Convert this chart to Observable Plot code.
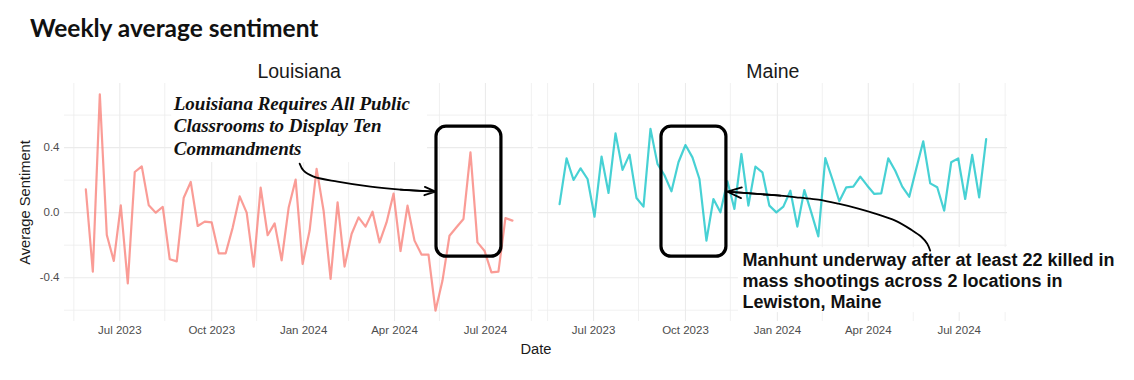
<!DOCTYPE html>
<html><head><meta charset="utf-8">
<script src="https://cdn.jsdelivr.net/npm/d3@7"></script>
<script src="https://cdn.jsdelivr.net/npm/@observablehq/plot@0.6"></script>
<style>
body{margin:0;background:#fff;width:1134px;height:380px;overflow:hidden;position:relative;font-family:"Liberation Sans",Arial,sans-serif}
#title{position:absolute;left:30px;top:3px;height:50px;font-family:Lato,sans-serif;font-weight:700;font-size:24.5px;line-height:50px;color:#111;white-space:nowrap}
#chart{position:absolute;left:0;top:50px}
</style></head><body>
<div id="title">Weekly average sentiment</div>
<div id="chart"></div>
<script>
const startDate = "2023-05-28"; // first weekly observation
const states = ["Louisiana", "Maine"];
const stateColors = ["#F8766D", "#00BFC4"];
const louisiana = [0.144,-0.363,0.728,-0.137,-0.297,0.045,-0.435,0.25,0.285,0.045,
  0.0,0.035,-0.287,-0.30,0.092,0.189,-0.082,-0.055,-0.06,-0.25,
  -0.25,-0.092,0.10,0.0,-0.332,0.154,-0.139,-0.066,-0.293,0.03,
  0.203,-0.316,-0.11,0.269,0.012,-0.408,0.064,-0.332,-0.131,-0.029,
  -0.086,0.006,-0.183,-0.06,0.117,-0.236,0.043,-0.172,-0.258,-0.258,
  -0.603,-0.418,-0.142,-0.09,-0.039,0.371,-0.183,-0.234,-0.367,-0.363,
  -0.033,-0.049];
const maine = [0.053,0.334,0.201,0.273,0.207,-0.025,0.345,0.121,0.488,0.263,
  0.357,0.09,0.037,0.515,0.30,0.23,0.131,0.31,0.416,0.34,
  0.207,-0.172,0.084,0.002,0.193,0.023,0.361,0.043,0.283,0.248,
  0.043,0.002,0.037,0.135,-0.086,0.139,0.0,-0.146,0.336,0.207,
  0.07,0.156,0.16,0.222,0.166,0.115,0.119,0.334,0.258,0.16,
  0.098,0.27,0.439,0.18,0.156,0.012,0.31,0.334,0.084,0.355,
  0.094,0.453];
const xTicks = ["2023-07-01","2023-10-01","2024-01-01","2024-04-01","2024-07-01"];
const xMinorTicks = ["2023-05-16","2023-08-15","2023-11-15","2024-02-15","2024-05-16","2024-08-16"];
const yTicks = [-0.4, 0, 0.4];
const yMinorTicks = [-0.6, -0.2, 0.2, 0.6];

// annotations (data coordinates)
const boxes = [
  {state:"Louisiana", x1:"2024-05-13", x2:"2024-07-17", y1:0.529, y2:-0.271},
  {state:"Maine", x1:"2023-09-07", x2:"2023-11-11", y1:0.529, y2:-0.271}
];
const noteBacks = [
  {state:"Louisiana", x1:"2023-08-22", x2:"2024-05-04", y1:0.80, y2:0.308},
  {state:"Maine", x1:"2023-11-23", x2:"2024-12-09", y1:-0.215, y2:-0.615}
];
const laNote = {state:"Louisiana", x:"2023-08-24", y:0.735, text:"Louisiana Requires All Public\nClassrooms to Display Ten\nCommandments"};
const meNote = {state:"Maine", x:"2023-11-27", y:-0.236, text:"Manhunt underway after at least 22 killed in\nmass shootings across 2 locations in\nLewiston, Maine"};
const laCurve = [["2023-12-28",0.302],["2024-01-01",0.258],["2024-01-11",0.222],["2024-02-04",0.191],["2024-03-08",0.16],["2024-04-07",0.142],["2024-05-12",0.129]];
const meCurve = [["2024-06-02",-0.234],["2024-05-30",-0.191],["2024-05-24",-0.148],["2024-05-14",-0.105],["2024-04-28",-0.049],["2024-04-08",-0.006],["2024-03-22",0.025],["2024-03-02",0.055],["2024-02-11",0.080],["2024-01-24",0.092],["2024-01-04",0.105],["2023-12-15",0.114],["2023-11-25",0.123],["2023-11-12",0.129]];
const arrows = [
  {state:"Louisiana", x1:"2024-04-07", y1:0.142, x2:"2024-05-12", y2:0.129},
  {state:"Maine", x1:"2024-01-04", y1:0.105, x2:"2023-11-12", y2:0.129}
];

const parse = d3.utcParse("%Y-%m-%d");
const t0 = parse(startDate);
const rows = [];
louisiana.forEach((v, i) => rows.push({state:"Louisiana", date:d3.utcDay.offset(t0, 7*i), value:v}));
maine.forEach((v, i) => rows.push({state:"Maine", date:d3.utcDay.offset(t0, 7*i), value:v}));

const [dmin, dmax] = d3.extent(rows, d => d.date);
const dspan = dmax - dmin;
const xDomain = [new Date(+dmin - 0.05*dspan), new Date(+dmax + 0.05*dspan)];
const [vmin, vmax] = d3.extent(rows, d => d.value);
const vspan = vmax - vmin;
const yDomain = [vmin - 0.05*vspan, vmax + 0.05*vspan];

const rectRows = a => a.map(d => ({...d, x1:parse(d.x1), x2:parse(d.x2)}));
const curveRows = (c, s) => c.map(([x, y]) => ({state:s, x:parse(x), y}));
const noteRow = n => [{...n, x:parse(n.x)}];

const chart = Plot.plot({
  width: 1134, height: 330,
  marginLeft: 64, marginRight: 127, marginTop: 33, marginBottom: 59,
  style: {fontFamily: '"Liberation Sans", Arial, sans-serif', background: "white", overflow: "visible"},
  fx: {domain: states, paddingInner: 0.0095, paddingOuter: 0, round: false, axis: null, label: null},
  x: {type: "utc", domain: xDomain, axis: null},
  y: {domain: yDomain, axis: null},
  color: {domain: states, range: stateColors},
  marks: [
    Plot.ruleX(xMinorTicks.map(parse), {stroke: "#eeeeee", strokeWidth: 0.8}),
    Plot.ruleY(yMinorTicks, {stroke: "#eeeeee", strokeWidth: 0.8}),
    Plot.ruleX(xTicks.map(parse), {stroke: "#ebebeb", strokeWidth: 1.1}),
    Plot.ruleY(yTicks, {stroke: "#ebebeb", strokeWidth: 1.1}),
    Plot.rect(rectRows(noteBacks), {x1: "x1", x2: "x2", y1: "y1", y2: "y2", fx: "state", fill: "white"}),
    Plot.line(rows, {x: "date", y: "value", fx: "state", stroke: "state", strokeWidth: 2.2, strokeOpacity: 0.72}),
    Plot.rect(rectRows(boxes), {x1: "x1", x2: "x2", y1: "y1", y2: "y2", fx: "state", fill: "none", stroke: "black", strokeWidth: 3.2, rx: 10}),
    Plot.line(curveRows(laCurve, "Louisiana"), {x: "x", y: "y", fx: "state", curve: "catmull-rom", stroke: "black", strokeWidth: 1.8}),
    Plot.line(curveRows(meCurve, "Maine"), {x: "x", y: "y", fx: "state", curve: "catmull-rom", stroke: "black", strokeWidth: 1.8}),
    Plot.arrow(rectRows(arrows), {x1: "x1", y1: "y1", x2: "x2", y2: "y2", fx: "state", stroke: "black", strokeWidth: 1.8, headLength: 12.5, headAngle: 42}),
    Plot.text(noteRow(laNote), {x: "x", y: "y", fx: "state", text: "text", textAnchor: "start", lineAnchor: "top", lineHeight: 1.21,
      fontFamily: '"Liberation Serif", "DejaVu Serif", serif', fontStyle: "italic", fontWeight: "bold", fontSize: 19, fill: "#111"}),
    Plot.text(noteRow(meNote), {x: "x", y: "y", fx: "state", text: "text", textAnchor: "start", lineAnchor: "top", lineHeight: 1.167,
      fontFamily: '"Liberation Sans", Arial, sans-serif', fontWeight: "bold", fontSize: 18, fill: "#111"}),
    Plot.axisFx({anchor: "top", tickSize: 0, tickPadding: 6, fontSize: 19.5, fill: "#1a1a1a", label: null}),
    Plot.axisX(xTicks.map(parse), {tickSize: 0, tickPadding: 4, tickFormat: d3.utcFormat("%b %Y"), fontSize: 11.5, fill: "#4d4d4d", label: null}),
    Plot.axisY(yTicks, {tickSize: 0, tickPadding: 5, tickFormat: d => d.toFixed(1), fontSize: 11.5, fill: "#4d4d4d", label: null, facetAnchor: "left"}),
    Plot.text(["Date"], {frameAnchor: "bottom", facet: "super", dy: 32, fontSize: 14.7, fill: "#1a1a1a"}),
    Plot.text(["Average Sentiment"], {frameAnchor: "left", facet: "super", textAnchor: "middle", dx: -39, rotate: -90, fontSize: 14.7, fill: "#1a1a1a"})
  ]
});
document.getElementById("chart").appendChild(chart);
</script>
</body></html>
